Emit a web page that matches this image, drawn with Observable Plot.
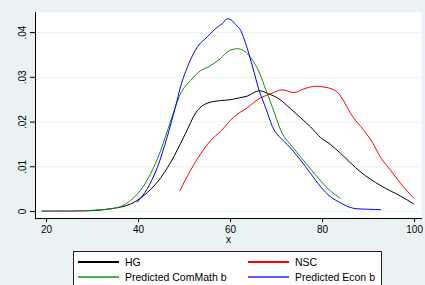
<!DOCTYPE html>
<html>
<head>
<meta charset="utf-8">
<script src="https://cdn.jsdelivr.net/npm/d3@7"></script>
<script src="https://cdn.jsdelivr.net/npm/@observablehq/plot@0.6"></script>
<style>
  html, body { margin: 0; padding: 0; background: #eaf2f3; }
  body { width: 425px; height: 285px; overflow: hidden; position: relative; font-family: "Liberation Sans", Arial, sans-serif; }
  #chart svg { display: block; background: transparent; }
  #legend { position: absolute; left: 73px; top: 251px; width: 309px; height: 40px; background: #fff; border: 1px solid #222; box-sizing: border-box; font-size: 10.5px; color: #000; }
  .item { position: absolute; height: 14px; line-height: 14px; white-space: nowrap; }
  .item .sw { position: absolute; left: 0; top: 6px; width: 41px; height: 0; border-top: 2px solid; }
  .item .lb { position: absolute; left: 47px; top: 0; }
</style>
</head>
<body>
<div id="chart"></div>
<div id="legend"></div>
<script>
// ---- data ----
const seriesNames = ["HG", "NSC", "Predicted ComMath b", "Predicted Econ b"];
const seriesColors = ["#000000", "#ff0000", "#138a13", "#0000ff"];

const hgX = [19, 25, 30, 33.9, 38.3, 41.2, 44.1, 47.0, 49.8, 52.8, 54.9, 57.8, 60.0, 61.8, 63.6, 66.2, 68.3, 70.5, 73.0, 75.2, 77.4, 79.6, 81.7, 83.9, 88.3, 92.6, 97.0, 99.8];
const hgY = [0.0001, 0.0001, 0.0002, 0.0006, 0.0017, 0.0036, 0.0066, 0.0110, 0.0166, 0.0226, 0.0242, 0.0248, 0.0250, 0.0254, 0.0258, 0.0270, 0.0263, 0.0252, 0.0230, 0.0210, 0.0189, 0.0165, 0.0150, 0.0130, 0.0088, 0.0058, 0.0034, 0.0017];

const nscX = [49.0, 51.3, 53.5, 55.7, 57.8, 60.7, 63.6, 66.5, 68.7, 71.2, 73.8, 75.9, 78.5, 81.0, 83.2, 84.7, 86.1, 89.0, 90.8, 92.6, 94.8, 97.0, 99.8];
const nscY = [0.0047, 0.0092, 0.0129, 0.0159, 0.0179, 0.0211, 0.0232, 0.0254, 0.0263, 0.0272, 0.0266, 0.0274, 0.0280, 0.0277, 0.0267, 0.0245, 0.0219, 0.0181, 0.0155, 0.0121, 0.0092, 0.0062, 0.0030];

const comX = [28.5, 32, 34, 36.1, 38.3, 40.4, 42.6, 44.8, 47.0, 49.1, 51.3, 53.5, 55.3, 57.8, 59.6, 61.5, 63.3, 64.8, 66.2, 67.7, 69.1, 70.9, 73.8, 76.7, 79.6, 81.7, 83.8];
const comY = [0.0002, 0.0004, 0.0006, 0.0011, 0.0025, 0.0047, 0.0084, 0.0136, 0.0203, 0.0263, 0.0293, 0.0315, 0.0324, 0.0342, 0.0359, 0.0364, 0.0356, 0.0338, 0.0312, 0.0271, 0.0233, 0.0182, 0.0140, 0.0104, 0.0068, 0.0046, 0.0030];

const econX = [39.7, 41.9, 44.1, 46.2, 48.0, 49.1, 50.9, 52.8, 54.9, 57.1, 58.2, 59.3, 60.2, 61.1, 62.2, 63.3, 64.8, 66.2, 67.7, 69.1, 71.3, 72.3, 75.2, 77.4, 79.6, 81.7, 83.8, 85.5, 87.5, 90.0, 92.6];
const econY = [0.0021, 0.0051, 0.0099, 0.0166, 0.0233, 0.0278, 0.0330, 0.0368, 0.0390, 0.0412, 0.0420, 0.0431, 0.0428, 0.0418, 0.0405, 0.0375, 0.0323, 0.0271, 0.0230, 0.0190, 0.0160, 0.0150, 0.0115, 0.0085, 0.0055, 0.0033, 0.0020, 0.0011, 0.0006, 0.0005, 0.0004];

const xTicks = [20, 40, 60, 80, 100];
const yTicks = [0, 0.01, 0.02, 0.03, 0.04];
const yTickLabels = ["0", ".01", ".02", ".03", ".04"];
const xLabel = "x";

// ---- build table ----
const allX = [hgX, nscX, comX, econX];
const allY = [hgY, nscY, comY, econY];
const rows = [];
seriesNames.forEach((s, i) => {
  allX[i].forEach((x, j) => rows.push({series: s, x, y: allY[i][j]}));
});

const chart = Plot.plot({
  width: 425,
  height: 245,
  marginLeft: 35,
  marginRight: 4,
  marginTop: 12,
  marginBottom: 27,
  style: {fontFamily: "'Liberation Sans', Arial, sans-serif", fontSize: "10px", color: "#000", background: "transparent"},
  x: {domain: [17.6, 101.5]},
  y: {domain: [-0.00157, 0.0445]},
  color: {domain: seriesNames, range: seriesColors},
  marks: [
    Plot.frame({fill: "#ffffff", stroke: null}),
    Plot.gridY(yTicks, {stroke: "#eaf2f3", strokeOpacity: 1, strokeWidth: 1}),
    Plot.line(rows, {x: "x", y: "y", z: "series", stroke: "series", strokeWidth: 1, curve: "monotone-x"}),
    Plot.axisX(xTicks, {tickSize: 4, tickPadding: 3, fontSize: 10, label: xLabel, labelAnchor: "center", labelArrow: "none", labelOffset: 24}),
    Plot.axisY(yTicks, {tickSize: 5, tickPadding: 5, tickRotate: -90, fontSize: 10, tickFormat: (d) => yTickLabels[yTicks.indexOf(d)], label: null}),
    Plot.frame({anchor: "left", stroke: "#000", strokeWidth: 1}),
    Plot.frame({anchor: "bottom", stroke: "#000", strokeWidth: 1})
  ]
});
document.getElementById("chart").appendChild(chart);

// ---- legend ----
const legend = document.getElementById("legend");
const positions = [[4, 3], [174, 3], [4, 18], [174, 18]];
seriesNames.forEach((s, i) => {
  const it = document.createElement("div");
  it.className = "item";
  it.style.left = positions[i][0] + "px";
  it.style.top = positions[i][1] + "px";
  const sw = document.createElement("span");
  sw.className = "sw";
  sw.style.borderColor = i === 2 ? "#4caf50" : (i === 3 ? "#5a5aff" : seriesColors[i]);
  const lb = document.createElement("span");
  lb.className = "lb";
  lb.textContent = s;
  it.appendChild(sw); it.appendChild(lb);
  legend.appendChild(it);
});
</script>
</body>
</html>
